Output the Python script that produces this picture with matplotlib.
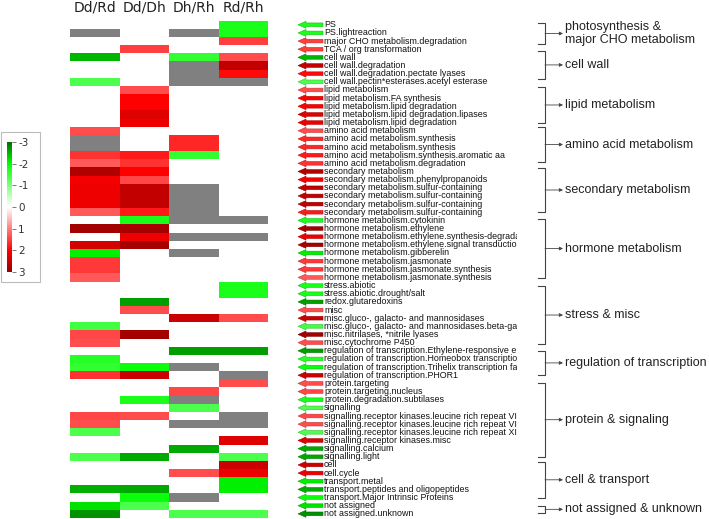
import numpy as np
import matplotlib
matplotlib.use('Agg')
import matplotlib.pyplot as plt
from matplotlib.colors import LinearSegmentedColormap, Normalize, ListedColormap, to_rgb
from matplotlib.patches import FancyArrow, Rectangle
import matplotlib.cm as cm

plt.rcParams['axes.unicode_minus'] = False

columns = ['Dd/Rd', 'Dd/Dh', 'Dh/Rh', 'Rd/Rh']

categories = [
    'PS', 'PS.lightreaction', 'major CHO metabolism.degradation', 'TCA / org transformation',
    'cell wall', 'cell wall.degradation', 'cell wall.degradation.pectate lyases',
    'cell wall.pectin*esterases.acetyl esterase',
    'lipid metabolism', 'lipid metabolism.FA synthesis', 'lipid metabolism.lipid degradation',
    'lipid metabolism.lipid degradation.lipases', 'lipid metabolism.lipid degradation',
    'amino acid metabolism', 'amino acid metabolism.synthesis', 'amino acid metabolism.synthesis',
    'amino acid metabolism.synthesis.aromatic aa', 'amino acid metabolism.degradation',
    'secondary metabolism', 'secondary metabolism.phenylpropanoids',
    'secondary metabolism.sulfur-containing', 'secondary metabolism.sulfur-containing',
    'secondary metabolism.sulfur-containing', 'secondary metabolism.sulfur-containing',
    'hormone metabolism.cytokinin', 'hormone metabolism.ethylene',
    'hormone metabolism.ethylene.synthesis-degradation', 'hormone metabolism.ethylene.signal transduction',
    'hormone metabolism.gibberelin', 'hormone metabolism.jasmonate',
    'hormone metabolism.jasmonate.synthesis', 'hormone metabolism.jasmonate.synthesis',
    'stress.abiotic', 'stress.abiotic.drought/salt', 'redox.glutaredoxins', 'misc',
    'misc.gluco-, galacto- and mannosidases', 'misc.gluco-, galacto- and mannosidases.beta-galactosidase',
    'misc.nitrilases, *nitrile lyases', 'misc.cytochrome P450',
    'regulation of transcription.Ethylene-responsive element binding protein family',
    'regulation of transcription.Homeobox transcription factor family',
    'regulation of transcription.Trihelix transcription factor family',
    'regulation of transcription.PHOR1',
    'protein.targeting', 'protein.targeting.nucleus', 'protein.degradation.subtilases', 'signalling',
    'signalling.receptor kinases.leucine rich repeat VI', 'signalling.receptor kinases.leucine rich repeat VI',
    'signalling.receptor kinases.leucine rich repeat XI', 'signalling.receptor kinases.misc',
    'signalling.calcium', 'signalling.light', 'cell', 'cell.cycle', 'transport.metal',
    'transport.peptides and oligopeptides', 'transport.Major Intrinsic Proteins',
    'not assigned', 'not assigned.unknown',
]

_ = None      # blank (no change)
NA = 'NA'     # grey cell

dd_rd = [_, NA, _, _, -2.5, _, _, -1.4,
         _, _, _, _, _,
         1.4, NA, NA, 1.6, 1.3,
         2.75, 2.1, 2.15, 2.15, 2.15, 1.3,
         _, 2.9, _, 2.4, -2.1, 1.55, 1.55, 1.3,
         _, _, _, _, _, -1.5, 1.45, 1.4,
         _, -1.7, -1.6, 1.6,
         _, _, _, _, 1.45, 1.4, -1.4, _, _, -1.4,
         _, _, _, -2.55, _,
         -2.2, -2.75]
dd_dh = [_, _, _, 1.5, _, _, _, _,
         1.4, 2.0, 2.0, 2.3, 2.15,
         _, _, _, 1.8, 1.6,
         2.0, 1.45, 2.6, 2.6, 2.6, 1.8,
         -1.8, 2.85, 2.15, 2.85, _, _, _, _,
         _, _, -2.65, 1.4, _, _, 2.9, _,
         _, _, -1.9, 2.5,
         _, _, -1.8, _, 1.4, _, _, _, _, -2.6,
         _, _, _, -2.6, -1.9,
         -1.4, _]
dh_rh = [_, NA, _, _, -1.6, NA, NA, NA,
         _, _, _, _, _,
         _, 1.7, 1.7, -1.6, _,
         _, _, NA, NA, NA, NA,
         NA, _, NA, _, NA, _, _, _,
         _, _, _, _, 2.5, _, _, _,
         -2.65, _, NA, _,
         _, 1.45, NA, -1.4, _, NA, _, _, -2.6, _,
         _, 1.4, _, _, NA,
         _, -1.4]
rd_rh = [-1.8, -1.8, 1.5, _, 1.4, 2.6, 1.9, NA,
         _, _, _, _, _,
         _, _, _, _, _,
         _, _, _, _, _, _,
         NA, _, NA, _, _, _, _, _,
         -1.8, -1.8, _, _, 1.4, _, _, _,
         -2.65, _, _, NA,
         1.4, _, _, _, NA, NA, _, 2.3, _, -1.4,
         2.5, 2.15, -2.1, -2.1, _,
         _, -1.4]

cbar_ticks = [-3, -2, -1, 0, 1, 2, 3]

groups = ['photosynthesis &\nmajor CHO metabolism', 'cell wall', 'lipid metabolism',
          'amino acid metabolism', 'secondary metabolism', 'hormone metabolism',
          'stress & misc', 'regulation of transcription', 'protein & signaling',
          'cell & transport', 'not assigned & unknown']
# bracket spans in row units (layout)
group_spans = [(0.28, 2.86), (3.7, 7.15), (8.13, 12.55), (13.04, 17.34), (18.07, 23.47),
               (24.33, 31.57), (32.55, 39.67), (40.5, 43.47), (44.4, 53.5), (54.15, 58.5),
               (59.5, 60.4)]

# ---------------------------------------------------------------
W, H = 709, 519
fig = plt.figure(figsize=(W / 100, H / 100), dpi=100)
fig.patch.set_facecolor('white')

cmap = LinearSegmentedColormap.from_list(
    'gwr', [(0.0, '#007000'), (1 / 6, '#00ff00'), (0.5, '#ffffff'), (5 / 6, '#ff0000'), (1.0, '#990000')])
norm = Normalize(-3, 3)

cols = [dd_rd, dd_dh, dh_rh, rd_rh]
n = len(categories)
vals = np.array([[np.nan if (c[i] is None or c[i] == NA) else c[i] for c in cols] for i in range(n)], float)
grey = np.array([[1.0 if c[i] == NA else np.nan for c in cols] for i in range(n)], float)

top_px, bot_px = 20.7, 517.9
def fax(x0, x1):
    return fig.add_axes([x0 / W, 1 - bot_px / H, (x1 - x0) / W, (bot_px - top_px) / H])

ax = fax(70.3, 268.3)
ax.pcolormesh(np.arange(5), np.arange(n + 1), grey, cmap=ListedColormap(['#808080']), vmin=0, vmax=2)
ax.pcolormesh(np.arange(5), np.arange(n + 1), vals, cmap=cmap, norm=norm)
ax.set_xlim(0, 4)
ax.set_ylim(n, 0)
ax.axis('off')
for j, name in enumerate(columns):
    ax.text(j + 0.5, -1.67, name, ha='center', va='center', fontsize=10,
            family='DejaVu Sans', color='#222222')

# labels with arrows
ax2 = fax(297, 517)
ax2.set_xlim(0, 220)
ax2.set_ylim(n, 0)
ax2.axis('off')
for i, lab in enumerate(categories):
    row = vals[i]
    if np.all(np.isnan(row)):
        v = 0
    else:
        v = row[np.nanargmax(np.abs(np.nan_to_num(row)))]
    fc = cmap(norm(v))
    ec = tuple(np.array(to_rgb(fc)) * 0.75)
    ax2.add_patch(FancyArrow(26, i + 0.5, -25, 0, width=0.45, head_width=0.85, head_length=8,
                             length_includes_head=True, fc=fc, ec=ec, lw=0.4))
    ax2.text(27, i + 0.5, lab, ha='left', va='center', fontsize=6.4,
             family='Liberation Sans', color='#111111', clip_on=True)

# group brackets
ax3 = fax(530, 709)
ax3.set_xlim(0, 179)
ax3.set_ylim(n, 0)
ax3.axis('off')
for lab, (y0, y1) in zip(groups, group_spans):
    ax3.plot([8, 15, 15, 8], [y0, y0, y1, y1], color='#444444', lw=0.8)
    ym = (y0 + y1) / 2
    ax3.annotate('', xy=(33, ym), xytext=(15, ym),
                 arrowprops=dict(arrowstyle='-|>', lw=0.6, color='#444444', mutation_scale=5,
                                 shrinkA=0, shrinkB=0))
    ax3.text(35, ym, lab, ha='left', va='center', fontsize=9, family='Liberation Sans',
             color='#222222', linespacing=1.1)

# colour bar
fig.add_artist(Rectangle((1 / W, 1 - 282 / H), 39 / W, 150 / H, transform=fig.transFigure,
                         fill=False, ec='#bbbbbb', lw=0.8))
cax = fig.add_axes([7 / W, 1 - 272 / H, 5 / W, 130 / H])
sm = cm.ScalarMappable(norm=norm, cmap=cmap)
cb = fig.colorbar(sm, cax=cax, ticks=cbar_ticks)
cb.set_ticklabels([str(t) for t in cbar_ticks])
cax.invert_yaxis()
cb.outline.set_visible(False)
cax.tick_params(length=3, width=0.6, color='#666666', labelsize=7.5, labelcolor='#333333', pad=1.5)

fig.savefig('out.png', dpi=100)
